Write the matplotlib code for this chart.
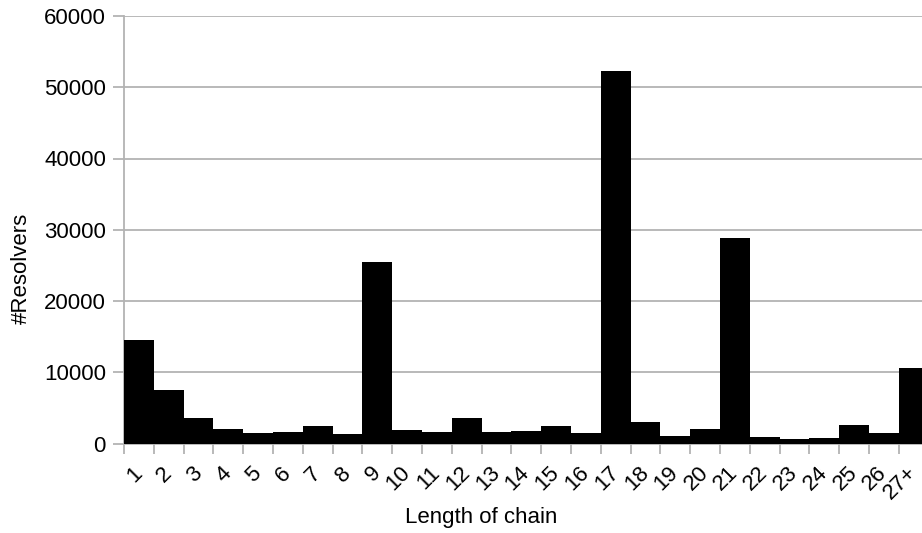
import matplotlib
matplotlib.use("Agg")
from matplotlib import pyplot as plt
import numpy as np

# chain length categories and number of resolvers
labels = [str(i) for i in range(1, 27)] + ["27+"]
resolvers = [14500, 7500, 3600, 2000, 1450, 1600, 2450, 1300, 25500, 1900,
             1600, 3600, 1600, 1750, 2450, 1450, 52300, 3000, 1050, 2000,
             28900, 900, 650, 750, 2600, 1450, 10600]
y_ticks = [0, 10000, 20000, 30000, 40000, 50000, 60000]

plt.rcParams['font.family'] = ['Liberation Sans', 'DejaVu Sans']
grey = '#b3b3b3'

fig = plt.figure(figsize=(9.22, 5.33), dpi=100)
ax = fig.add_axes([124 / 922, 1 - 443.5 / 533, (928.6 - 124) / 922, (443.5 - 16) / 533])

x = np.arange(len(labels))
ax.bar(x, resolvers, width=1.0, color='black', zorder=3)

ax.set_xlim(-0.5, len(labels) - 0.5)
ax.set_ylim(0, 60000)
ax.set_yticks(y_ticks)
ax.set_yticklabels([str(v) for v in y_ticks], fontsize=16)
ax.yaxis.grid(True, color=grey, linewidth=1.3, zorder=0)

# tick marks on bar boundaries, labels under bar centres
ax.set_xticks(x)
ax.set_xticklabels(labels, fontsize=16, rotation=45, ha='right', va='center',
                   rotation_mode='anchor')
ax.tick_params(axis='x', which='major', length=0, pad=19)
ax.set_xticks(np.arange(len(labels) + 1) - 0.5, minor=True)
ax.tick_params(axis='x', which='minor', length=7, width=1.3, color=grey)
ax.tick_params(axis='y', length=8, width=1.3, color=grey, pad=5)

for s in ['top', 'right']:
    ax.spines[s].set_visible(False)
for s in ['left', 'bottom']:
    ax.spines[s].set_color(grey)
    ax.spines[s].set_linewidth(1.3)

ax.set_xlabel('Length of chain', fontsize=16, va='center')
ax.xaxis.set_label_coords(0.444, -0.174)
ax.set_ylabel('#Resolvers', fontsize=16, va='center')
ax.yaxis.set_label_coords(-0.128, 0.41)

fig.savefig('out.png', dpi=100)
